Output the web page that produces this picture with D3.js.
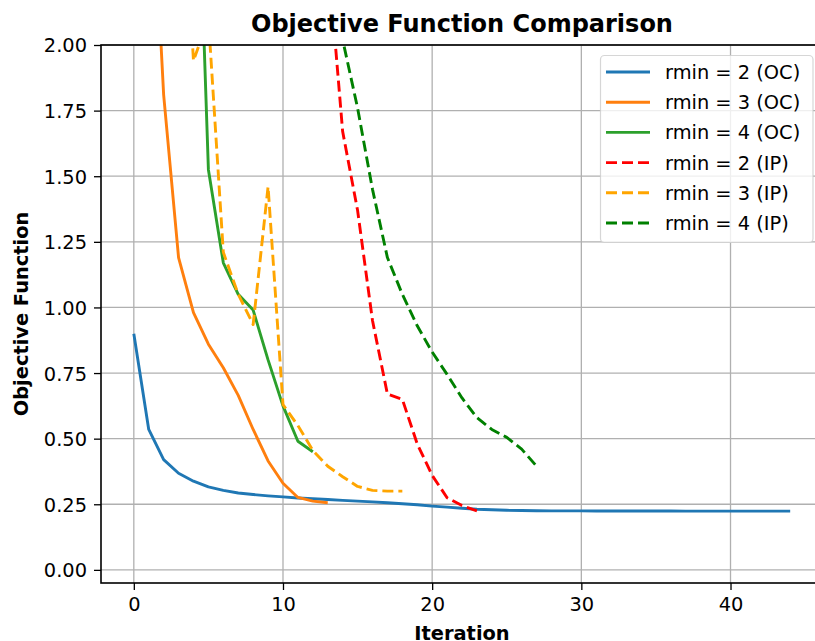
<!DOCTYPE html>
<html>
<head>
<meta charset="utf-8">
<script src="https://cdn.jsdelivr.net/npm/d3@7/dist/d3.min.js"></script>
<style>
  html, body { margin: 0; padding: 0; background: #fff; }
  svg { display: block; font-family: "DejaVu Sans", sans-serif; }
</style>
</head>
<body>
<svg id="chart" width="815" height="641"></svg>
<script>
// Objective function per iteration for each filter radius and optimizer.
// Each series begins at its start iteration; values above the axis limit are clipped.
const ocR2Start = 0;
const ocR2 = [0.90, 0.535, 0.42, 0.368, 0.338, 0.316, 0.303, 0.293, 0.287, 0.282,
              0.278, 0.274, 0.271, 0.268, 0.265, 0.262, 0.259, 0.256, 0.252, 0.248,
              0.243, 0.239, 0.235, 0.231, 0.229, 0.227, 0.226, 0.2255, 0.225, 0.225,
              0.2248, 0.2246, 0.2245, 0.2244, 0.2243, 0.2242, 0.2241, 0.224, 0.224, 0.224,
              0.224, 0.224, 0.224, 0.224, 0.224];

const ocR3Start = 1;
const ocR3 = [2.9, 1.81, 1.19, 0.98, 0.86, 0.77, 0.665, 0.535, 0.415, 0.33, 0.276, 0.262, 0.256];

const ocR4Start = 4;
const ocR4 = [3.2, 1.525, 1.17, 1.05, 0.99, 0.80, 0.625, 0.49, 0.45];

const ipR2Start = 13;
const ipR2 = [2.35, 1.67, 1.37, 0.95, 0.67, 0.65, 0.48, 0.36, 0.275, 0.245, 0.225];

const ipR3Start = 3;
const ipR3 = [2.9, 1.94, 2.1, 1.21, 1.05, 0.935, 1.46, 0.63, 0.55, 0.455, 0.395, 0.355, 0.318, 0.303, 0.30, 0.30];

const ipR4Start = 13;
const ipR4 = [2.6, 2.02, 1.76, 1.45, 1.19, 1.05, 0.93, 0.83, 0.745, 0.655, 0.58, 0.535, 0.505, 0.46, 0.395];

const seriesLabels = ["rmin = 2 (OC)", "rmin = 3 (OC)", "rmin = 4 (OC)",
                      "rmin = 2 (IP)", "rmin = 3 (IP)", "rmin = 4 (IP)"];
const xTicks = [0, 10, 20, 30, 40];
const yTicks = [0, 0.25, 0.5, 0.75, 1.0, 1.25, 1.5, 1.75, 2.0];

const series = [
  { label: seriesLabels[0], start: ocR2Start, values: ocR2, color: "#1f77b4", dashed: false },
  { label: seriesLabels[1], start: ocR3Start, values: ocR3, color: "#ff7f0e", dashed: false },
  { label: seriesLabels[2], start: ocR4Start, values: ocR4, color: "#2ca02c", dashed: false },
  { label: seriesLabels[3], start: ipR2Start, values: ipR2, color: "#ff0000", dashed: true },
  { label: seriesLabels[4], start: ipR3Start, values: ipR3, color: "#ffa500", dashed: true },
  { label: seriesLabels[5], start: ipR4Start, values: ipR4, color: "#008000", dashed: true }
];

const svg = d3.select("#chart");
const plot = { left: 101, right: 823, top: 45, bottom: 583 };

const x = d3.scaleLinear().domain([-2.2, 46.2]).range([plot.left, plot.right]);
const y = d3.scaleLinear().domain([-0.05, 2.0]).range([plot.bottom, plot.top]);

// clip region for the plotting area
svg.append("defs").append("clipPath").attr("id", "plot-clip")
  .append("rect")
  .attr("x", plot.left).attr("y", plot.top)
  .attr("width", plot.right - plot.left).attr("height", plot.bottom - plot.top);

// grid
const grid = svg.append("g").attr("class", "grid");
grid.selectAll("line.gx").data(xTicks).join("line")
  .attr("x1", d => x(d)).attr("x2", d => x(d))
  .attr("y1", plot.top).attr("y2", plot.bottom)
  .attr("stroke", "#b0b0b0").attr("stroke-width", 1.3);
grid.selectAll("line.gy").data(yTicks).join("line")
  .attr("x1", plot.left).attr("x2", plot.right)
  .attr("y1", d => y(d)).attr("y2", d => y(d))
  .attr("stroke", "#b0b0b0").attr("stroke-width", 1.3);

// lines
const line = d3.line()
  .x(d => x(d.it))
  .y(d => y(d.v));

const lines = svg.append("g").attr("clip-path", "url(#plot-clip)");
series.forEach(s => {
  const pts = s.values.map((v, i) => ({ it: s.start + i, v }));
  lines.append("path")
    .datum(pts)
    .attr("d", line)
    .attr("fill", "none")
    .attr("stroke", s.color)
    .attr("stroke-width", 2.9)
    .attr("stroke-linejoin", "round")
    .attr("stroke-dasharray", s.dashed ? "11,5" : null);
});

// axes
const fontSize = 19.4;
const xAxis = svg.append("g")
  .attr("transform", `translate(0,${plot.bottom})`)
  .call(d3.axisBottom(x).tickValues(xTicks).tickFormat(d3.format("d"))
    .tickSizeInner(7).tickSizeOuter(0).tickPadding(7));
const yAxis = svg.append("g")
  .attr("transform", `translate(${plot.left},0)`)
  .call(d3.axisLeft(y).tickValues(yTicks).tickFormat(d3.format(".2f"))
    .tickSizeInner(7).tickSizeOuter(0).tickPadding(7));

[xAxis, yAxis].forEach(g => {
  g.select(".domain").remove();
  g.selectAll(".tick line").attr("stroke", "#000").attr("stroke-width", 1.3);
  g.selectAll(".tick text")
    .attr("fill", "#000")
    .style("font-family", "DejaVu Sans")
    .style("font-size", fontSize + "px");
});
xAxis.selectAll(".tick text").attr("dy", "0.73em");
yAxis.selectAll(".tick text").attr("dy", "0.36em");

// frame
svg.append("rect")
  .attr("x", plot.left).attr("y", plot.top)
  .attr("width", plot.right - plot.left).attr("height", plot.bottom - plot.top)
  .attr("fill", "none").attr("stroke", "#000").attr("stroke-width", 1.6);

// title and axis labels
svg.append("text")
  .attr("x", (plot.left + plot.right) / 2).attr("y", 31.5)
  .attr("text-anchor", "middle")
  .style("font-size", "24px").style("font-weight", "bold")
  .text("Objective Function Comparison");

svg.append("text")
  .attr("x", (plot.left + plot.right) / 2).attr("y", 640)
  .attr("text-anchor", "middle")
  .style("font-size", fontSize + "px").style("font-weight", "bold")
  .text("Iteration");

svg.append("text")
  .attr("transform", `translate(28,${(plot.top + plot.bottom) / 2}) rotate(-90)`)
  .attr("text-anchor", "middle")
  .style("font-size", fontSize + "px").style("font-weight", "bold")
  .text("Objective Function");

// legend
const legend = svg.append("g").attr("class", "legend");
legend.append("rect")
  .attr("x", 600.5).attr("y", 55.5).attr("width", 212.5).attr("height", 187)
  .attr("rx", 4).attr("ry", 4)
  .attr("fill", "#fff").attr("fill-opacity", 0.8)
  .attr("stroke", "#cccccc").attr("stroke-opacity", 0.8).attr("stroke-width", 1.2);

const rowY = d3.scaleLinear().domain([0, 5]).range([72, 223]);
const rows = legend.selectAll("g.row").data(series).join("g")
  .attr("transform", (d, i) => `translate(0,${rowY(i)})`);
rows.append("line")
  .attr("x1", 606).attr("x2", 650).attr("y1", 0).attr("y2", 0)
  .attr("stroke", d => d.color).attr("stroke-width", 2.9)
  .attr("stroke-dasharray", d => d.dashed ? "11,5" : null);
rows.append("text")
  .attr("x", 665).attr("y", 0).attr("dy", "0.36em")
  .attr("fill", "#000")
  .style("font-size", fontSize + "px")
  .text(d => d.label);
</script>
</body>
</html>
